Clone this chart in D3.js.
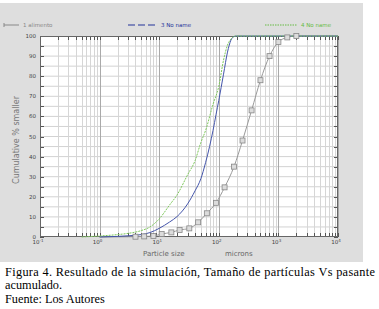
<!DOCTYPE html>
<meta charset="utf-8">
<script src="https://d3js.org/d3.v7.min.js"></script>
<style>
body { margin: 0; background: #fff; }
text { font-family: "DejaVu Sans", sans-serif; }
.cap { font-family: "Liberation Serif", "Times New Roman", serif; font-size: 12.3px; fill: #000; }
</style>
<body>
<script>

// series: particle size (microns) vs cumulative % smaller
var sizes1 = [1, 2, 4, 5.6, 8, 11, 16, 22, 32, 45, 63, 90, 125, 180, 250, 355, 500, 710, 1000, 1410, 2000, 10000];
var pass1  = [0, 0.05, 0.15, 0.3, 0.5, 1.5, 2.3, 3.5, 4.3, 7.3, 11.8, 17, 24.7, 35, 48, 63, 78, 90, 97, 99.3, 100, 100];
var marks1 = [4, 5.6, 8, 11, 16, 22, 32, 45, 63, 90, 125, 180, 250, 355, 500, 710, 1000, 1410, 2000];

var sizes3 = [1, 2, 3, 5, 7, 10, 15, 20, 30, 40, 50, 60, 70, 80, 90, 100, 120, 140, 160, 180, 200, 10000];
var pass3  = [0, 0.3, 0.6, 1.2, 2.2, 4.3, 7.5, 10.2, 16.5, 23, 29, 37, 45, 53, 61, 68, 81, 92, 98, 99.7, 100, 100];

var sizes4 = [0.5, 1, 2, 3, 5, 7, 10, 15, 20, 30, 40, 50, 60, 80, 100, 120, 140, 160, 190, 10000];
var pass4  = [0, 0.5, 1.2, 1.8, 3.2, 5, 9, 16, 21, 31, 38, 47, 53, 66, 75, 88, 95.5, 98.5, 100, 100];

var legendNames = ["1 alimento", "3 No name", "4 No name"];
var yTicks = [0, 10, 20, 30, 40, 50, 60, 70, 80, 90, 100];
var xDecades = [-1, 0, 1, 2, 3, 4];

var W = 379, H = 309;
var svg = d3.select("body").append("svg").attr("width", W).attr("height", H);

// grey panel
svg.append("rect").attr("x", 0).attr("y", 3).attr("width", 363).attr("height", 259).attr("fill", "#dedede");

var x = d3.scaleLog().domain([0.1, 10000]).range([40, 338]);
var y = d3.scaleLinear().domain([0, 100]).range([237, 36]);

svg.append("rect").attr("x", 40).attr("y", 36).attr("width", 298).attr("height", 201).attr("fill", "#fff");

// minor log values
var logVals = [];
for (var e = -1; e < 4; e++) {
  for (var k = 1; k < 10; k++) logVals.push({v: k * Math.pow(10, e), major: k == 1});
}
logVals.push({v: 10000, major: true});

var grid = svg.append("g");
grid.selectAll(".hg").data(d3.range(5, 100, 5)).enter().append("line")
    .attr("x1", 40).attr("x2", 338)
    .attr("y1", function(d) { return y(d); }).attr("y2", function(d) { return y(d); })
    .attr("stroke", "#d2d2d2").attr("stroke-width", 1);
grid.selectAll(".vg").data(logVals).enter().append("line")
    .attr("x1", function(d) { return Math.round(x(d.v)) + 0.5; })
    .attr("x2", function(d) { return Math.round(x(d.v)) + 0.5; })
    .attr("y1", 36).attr("y2", 237)
    .attr("stroke", function(d) { return d.major ? "#aaaaaa" : "#d6d6d6"; })
    .attr("stroke-width", 1);

// ticks
var ticks = svg.append("g").attr("stroke", "#555").attr("stroke-width", 1);
logVals.forEach(function(d) {
  var px = Math.round(x(d.v)) + 0.5;
  ticks.append("line").attr("x1", px).attr("x2", px).attr("y1", 36).attr("y2", 40);
  ticks.append("line").attr("x1", px).attr("x2", px).attr("y1", 237).attr("y2", 233);
});
d3.range(0, 101, 5).forEach(function(v) {
  var py = Math.round(y(v)) + 0.5;
  ticks.append("line").attr("x1", 40).attr("x2", 44).attr("y1", py).attr("y2", py);
  ticks.append("line").attr("x1", 338).attr("x2", 334).attr("y1", py).attr("y2", py);
});

svg.append("rect").attr("x", 40.5).attr("y", 36.5).attr("width", 297).attr("height", 200)
    .attr("fill", "none").attr("stroke", "#666").attr("stroke-width", 1);

// y labels
svg.selectAll(".yl").data(yTicks).enter().append("text")
    .attr("x", 36).attr("y", function(d) { return y(d) + 2; })
    .attr("text-anchor", "end").attr("font-size", 5.5).attr("fill", "#444")
    .text(function(d) { return d; });

// x labels
xDecades.forEach(function(e) {
  var t = svg.append("text").attr("x", x(Math.pow(10, e)) - 2).attr("y", 244)
      .attr("text-anchor", "middle").attr("font-size", 5.5).attr("fill", "#444");
  t.append("tspan").text("10");
  t.append("tspan").attr("dy", -2.5).attr("font-size", 4).text(e);
});

// titles
svg.append("text").attr("transform", "translate(19,140) rotate(-90)")
    .attr("text-anchor", "middle").attr("font-size", 8).attr("fill", "#777")
    .text("Cumulative % smaller");
svg.append("text").attr("x", 143).attr("y", 256).attr("font-size", 7).attr("fill", "#666")
    .text("Particle size");
svg.append("text").attr("x", 225).attr("y", 256).attr("font-size", 7).attr("fill", "#666")
    .text("microns");

// curves
var line = d3.line().x(function(d) { return x(d[0]); }).y(function(d) { return y(d[1]); })
    .curve(d3.curveMonotoneX);
var plot = svg.append("g");
plot.append("path").datum(d3.zip(sizes1, pass1)).attr("d", line)
    .attr("fill", "none").attr("stroke", "#999").attr("stroke-width", 1);
plot.append("path").datum(d3.zip(sizes3, pass3)).attr("d", line)
    .attr("fill", "none").attr("stroke", "#4455aa").attr("stroke-width", 1);
plot.append("path").datum(d3.zip(sizes4, pass4)).attr("d", line)
    .attr("fill", "none").attr("stroke", "#7ec85c").attr("stroke-width", 1)
    .attr("stroke-dasharray", "2,1");

var interp1 = function(v) {
  var i = sizes1.indexOf(v);
  return pass1[i];
};
plot.selectAll(".mk").data(marks1).enter().append("rect")
    .attr("x", function(d) { return x(d) - 2.5; })
    .attr("y", function(d) { return y(interp1(d)) - 2.5; })
    .attr("width", 5).attr("height", 5)
    .attr("fill", "#dcdcdc").attr("stroke", "#888").attr("stroke-width", 0.8);

// legend
var lg = svg.append("g");
lg.append("line").attr("x1", 4).attr("x2", 4).attr("y1", 23).attr("y2", 27).attr("stroke", "#888");
lg.append("line").attr("x1", 4).attr("x2", 19).attr("y1", 25).attr("y2", 25).attr("stroke", "#888");
lg.append("text").attr("x", 23).attr("y", 27).attr("font-size", 5.5).attr("fill", "#888").text(legendNames[0]);
lg.append("line").attr("x1", 128).attr("x2", 157).attr("y1", 25).attr("y2", 25)
    .attr("stroke", "#223399").attr("stroke-dasharray", "7,3");
lg.append("text").attr("x", 161).attr("y", 27).attr("font-size", 5.5).attr("fill", "#223399").text(legendNames[1]);
lg.append("line").attr("x1", 265).attr("x2", 297).attr("y1", 25).attr("y2", 25)
    .attr("stroke", "#66bb44").attr("stroke-dasharray", "1.5,1");
lg.append("text").attr("x", 301).attr("y", 27).attr("font-size", 5.5).attr("fill", "#66bb44").text(legendNames[2]);

// caption
svg.append("text").attr("class", "cap").attr("x", 5).attr("y", 276)
    .attr("textLength", 370).attr("lengthAdjust", "spacing")
    .text("Figura 4. Resultado de la simulación, Tamaño de partículas Vs pasante");
svg.append("text").attr("class", "cap").attr("x", 5).attr("y", 289).text("acumulado.");
svg.append("text").attr("class", "cap").attr("x", 5).attr("y", 303).text("Fuente: Los Autores");

</script>
</body>
